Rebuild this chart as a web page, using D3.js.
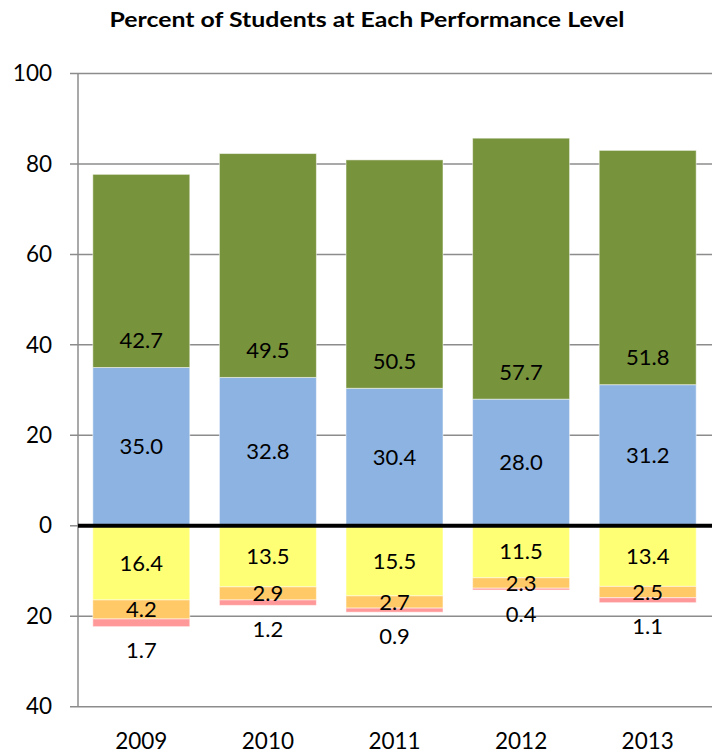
<!DOCTYPE html>
<html><head><meta charset="utf-8">
<script src="https://cdn.jsdelivr.net/npm/d3@7"></script>
<style>body{margin:0;background:#fff}</style>
</head><body>
<svg id="chart" width="715" height="755"></svg>
<script>
const years = ["2009","2010","2011","2012","2013"];
const advanced = [42.7,49.5,50.5,57.7,51.8];
const proficient = [35.0,32.8,30.4,28.0,31.2];
const needsImprovement = [16.4,13.5,15.5,11.5,13.4];
const warning = [4.2,2.9,2.7,2.3,2.5];
const failing = [1.7,1.2,0.9,0.4,1.1];
const yTicks = [-40,-20,0,20,40,60,80,100];
const title = "Percent of Students at Each Performance Level";

const colors = {adv:"#77933C", prof:"#8DB3E2", ni:"#FFFF75", w:"#FFC967", f:"#FF9999"};
const font = "Lato, 'Open Sans', sans-serif";

const svg = d3.select("#chart");
const x = d3.scaleBand().domain(years).range([78, 711]).paddingInner(0.234).paddingOuter(0.117);
const y = d3.scaleLinear().domain([-40, 100]).range([706.7, 73.5]);

svg.append("text").attr("x", 367).attr("y", 27).attr("text-anchor","middle")
  .attr("font-family", font).attr("font-weight","bold").attr("font-size", 21)
  .attr("textLength", 515).attr("lengthAdjust","spacingAndGlyphs")
  .text(title);

// gridlines
const grid = svg.append("g");
grid.selectAll("line").data(yTicks.filter(d => d !== 0)).join("line")
  .attr("x1", 70).attr("x2", 712).attr("y1", d => y(d)).attr("y2", d => y(d))
  .attr("stroke", "#8c8c8c").attr("stroke-width", 1.5);
grid.append("line").attr("x1",70).attr("x2",78).attr("y1",y(0)).attr("y2",y(0))
  .attr("stroke","#8c8c8c").attr("stroke-width",1.5);

// axis
const yAxis = d3.axisLeft(y).tickValues(yTicks).tickFormat(d => Math.abs(d)).tickSize(0).tickPadding(26);
const ag = svg.append("g").attr("transform","translate(78,0)").call(yAxis);
ag.select(".domain").remove();
ag.selectAll("text").attr("font-family", font).attr("font-size", 22.5).attr("fill","#000");
svg.append("line").attr("x1",78).attr("x2",78).attr("y1",y(100)).attr("y2",y(-40))
  .attr("stroke","#8c8c8c").attr("stroke-width",1.5);

// stacked segments
const segs = [];
years.forEach((yr,i) => {
  segs.push({yr, y0:0, y1:proficient[i], c:colors.prof});
  segs.push({yr, y0:proficient[i], y1:proficient[i]+advanced[i], c:colors.adv});
  const a = -needsImprovement[i], b = a - warning[i], c = b - failing[i];
  segs.push({yr, y0:0, y1:a, c:colors.ni});
  segs.push({yr, y0:a, y1:b, c:colors.w});
  segs.push({yr, y0:b, y1:c, c:colors.f});
});
svg.append("g").selectAll("rect").data(segs).join("rect")
  .attr("x", d => x(d.yr)).attr("width", x.bandwidth())
  .attr("y", d => Math.min(y(d.y0), y(d.y1)))
  .attr("height", d => Math.abs(y(d.y0) - y(d.y1)))
  .attr("fill", d => d.c).attr("stroke", "rgba(255,255,255,0.5)").attr("stroke-width", 1);

// zero line
svg.append("line").attr("x1",78).attr("x2",712).attr("y1",y(0)).attr("y2",y(0))
  .attr("stroke","#000").attr("stroke-width",4);

// labels
const labels = [];
years.forEach((yr,i) => {
  labels.push({yr, v:advanced[i], py: y(proficient[i]) - 27});
  labels.push({yr, v:proficient[i], py: y(proficient[i]/2)});
  const a = needsImprovement[i], b = a + warning[i], c = b + failing[i];
  labels.push({yr, v:needsImprovement[i], py: y(-a/2)});
  labels.push({yr, v:warning[i], py: y(-(a+b)/2)});
  labels.push({yr, v:failing[i], py: y(-c) + 24});
});
svg.append("g").selectAll("text").data(labels).join("text")
  .attr("x", d => x(d.yr) + x.bandwidth()/2).attr("y", d => d.py)
  .attr("dy","0.35em").attr("text-anchor","middle")
  .attr("font-family", font).attr("font-size", 22).attr("fill","#000")
  .text(d => d.v.toFixed(1));

// x labels
const xAxis = d3.axisBottom(x).tickSize(0).tickPadding(0);
const xg = svg.append("g").attr("transform","translate(0,741)").call(xAxis);
xg.select(".domain").remove();
xg.selectAll("text").attr("font-family", font).attr("font-size", 22.5).attr("fill","#000").attr("dy","0.35em");
</script>
</body></html>
